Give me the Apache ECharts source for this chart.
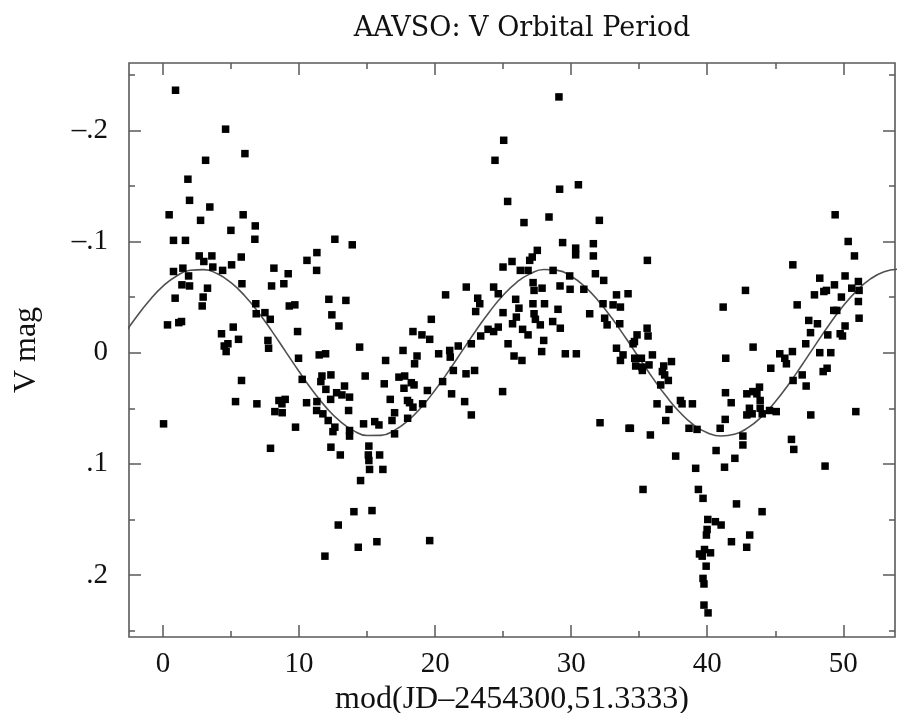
<!DOCTYPE html>
<html>
<head>
<meta charset="utf-8">
<title>AAVSO: V Orbital Period</title>
<script src="https://cdn.jsdelivr.net/npm/echarts@6/dist/echarts.min.js"></script>
<style>
  html, body { margin: 0; padding: 0; background: #fff; }
  #chart { width: 898px; height: 713px; }
</style>
</head>
<body>
<div id="chart"></div>
<script>
// Phase, mod(JD-2454300, 51.3333), of each observation
const phase = [
  0.92,4.60,6.02,3.13,1.83,1.95,3.44,0.45,5.89,2.76,6.78,4.99,0.77,1.65,6.75,12.63,13.91,2.66,3.59,5.75,
  11.31,10.58,3.00,1.46,3.66,0.77,4.38,5.04,8.15,9.20,11.29,1.88,1.39,1.95,3.27,5.80,7.98,8.88,0.89,2.95,
  2.88,6.82,6.85,7.49,7.88,9.28,9.69,12.19,13.44,12.41,12.93,0.33,1.16,1.36,9.89,4.30,5.16,5.55,4.50,4.77,
  4.64,7.71,7.76,14.45,9.96,11.48,11.95,
  5.77,5.33,6.90,0.04,10.23,14.86,12.34,11.68,11.60,11.97,13.34,12.76,13.15,13.71,12.32,8.52,8.98,8.74,
  10.55,11.31,8.22,8.76,11.29,11.75,13.64,12.14,9.74,12.63,12.49,13.71,13.71,14.74,15.56,7.90,12.34,13.03,
  15.13,15.09,15.13,15.18,14.52,14.03,15.36,12.88,14.35,15.72,11.90,
  29.10,25.04,24.40,29.15,30.53,25.33,28.37,26.53,32.07,29.37,30.33,30.33,31.63,31.63,27.51,27.14,26.95,
  25.65,24.99,26.26,26.83,28.67,29.89,31.78,32.39,27.20,27.86,29.18,29.92,30.93,27.27,22.29,20.77,24.30,
  24.64,23.13,23.28,22.98,25.92,27.19,28.04,29.03,31.36,26.16,25.97,24.99,27.27,27.37,27.73,28.64,29.20,
  24.64,25.69,26.83,26.43,19.72,18.37,19.03,19.60,23.89,24.30,23.35,27.98,25.36,22.66,21.70,21.07,17.64,
  18.67,20.26,16.36,27.83,29.57,30.38,33.33,33.81,25.80,34.18,33.33,33.08,33.62,32.34,32.46,32.64,33.57,
  18.49,21.11,26.38,33.62,17.34,17.76,18.25,18.45,17.71,16.26,16.70,17.97,18.12,18.37,19.08,19.43,20.55,
  21.34,22.27,22.90,21.21,22.17,22.66,24.96,17.02,16.83,15.87,17.98,17.02,15.92,16.16,19.60,32.12,34.25,
  49.40,50.36,50.82,46.29,35.60,48.27,50.13,49.35,48.76,48.57,47.88,50.62,51.11,51.16,49.86,51.11,51.16,
  49.52,49.30,46.61,42.81,41.17,47.46,48.10,50.13,47.59,48.86,49.77,49.94,35.58,35.65,34.84,34.65,34.55,
  43.37,47.24,46.26,45.33,48.27,49.08,35.97,41.36,37.37,34.67,35.16,45.70,
  34.74,35.21,35.23,35.72,36.80,36.70,36.87,37.14,36.58,44.67,45.82,46.31,46.98,47.27,48.52,48.81,50.92,
  47.61,48.66,46.19,46.36,41.34,41.76,41.32,40.95,40.65,41.27,42.03,42.62,42.62,42.91,43.35,43.84,43.65,
  43.89,43.10,43.30,42.91,43.89,44.04,44.58,45.07,36.31,37.19,38.03,38.15,38.91,36.95,34.35,35.82,38.66,
  39.25,37.68,39.15,35.28,39.35,39.69,42.15,44.03,40.04,40.60,41.02,39.99,39.94,43.12,41.78,42.90,39.43,
  39.80,40.24,39.63,39.92,39.69,39.76,39.76,40.06
];

// V magnitude (relative) of each observation
const vmag = [
  -0.236,-0.201,-0.179,-0.173,-0.156,-0.137,-0.131,-0.124,-0.124,-0.119,-0.114,-0.110,-0.101,-0.101,-0.102,-0.102,-0.097,-0.087,-0.087,-0.086,
  -0.090,-0.083,-0.082,-0.076,-0.077,-0.073,-0.074,-0.079,-0.076,-0.071,-0.074,-0.069,-0.061,-0.060,-0.058,-0.062,-0.060,-0.062,-0.049,-0.050,
  -0.042,-0.044,-0.035,-0.036,-0.030,-0.042,-0.043,-0.048,-0.047,-0.034,-0.024,-0.025,-0.027,-0.028,-0.019,-0.017,-0.023,-0.012,-0.006,-0.008,
  -0.001,-0.011,-0.004,-0.005,0.005,0.002,0.001,
  0.025,0.044,0.046,0.064,0.024,0.021,0.020,0.021,0.026,0.033,0.030,0.036,0.038,0.040,0.042,0.043,0.042,0.046,
  0.045,0.044,0.053,0.054,0.052,0.055,0.052,0.061,0.067,0.067,0.071,0.070,0.075,0.064,0.062,0.086,0.085,0.092,
  0.084,0.092,0.097,0.105,0.115,0.143,0.142,0.155,0.175,0.170,0.183,
  -0.230,-0.191,-0.173,-0.147,-0.151,-0.136,-0.122,-0.117,-0.119,-0.099,-0.094,-0.088,-0.098,-0.087,-0.092,-0.086,-0.083,
  -0.082,-0.077,-0.074,-0.074,-0.074,-0.069,-0.071,-0.065,-0.063,-0.058,-0.060,-0.057,-0.057,-0.056,-0.059,-0.052,-0.059,
  -0.053,-0.049,-0.044,-0.037,-0.048,-0.044,-0.044,-0.039,-0.035,-0.040,-0.032,-0.036,-0.035,-0.030,-0.025,-0.028,-0.022,
  -0.023,-0.026,-0.016,-0.021,-0.030,-0.019,-0.016,-0.012,-0.021,-0.019,-0.015,-0.011,-0.008,-0.008,-0.006,-0.002,-0.002,
  0.003,0.001,0.007,-0.001,0.001,0.001,-0.004,0.002,0.003,-0.053,-0.052,-0.043,-0.041,-0.044,-0.031,-0.025,-0.026,
  0.010,0.004,0.007,0.007,0.022,0.021,0.027,0.029,0.032,0.028,0.042,0.043,0.045,0.049,0.046,0.034,0.026,
  0.016,0.019,0.016,0.037,0.044,0.056,0.035,0.054,0.061,0.065,0.059,0.073,0.092,0.105,0.169,0.063,0.068,
  -0.124,-0.100,-0.087,-0.079,-0.083,-0.067,-0.069,-0.061,-0.056,-0.055,-0.052,-0.058,-0.064,-0.056,-0.050,-0.046,-0.031,
  -0.038,-0.038,-0.043,-0.056,-0.041,-0.029,-0.026,-0.024,-0.018,-0.016,-0.017,-0.015,-0.022,-0.015,-0.016,-0.010,-0.008,
  -0.005,-0.008,-0.001,0.001,0.000,0.000,0.002,0.005,0.008,0.005,0.005,0.005,
  0.012,0.013,0.016,0.011,0.012,0.017,0.020,0.025,0.029,0.014,0.010,0.025,0.020,0.030,0.017,0.014,0.053,
  0.056,0.102,0.078,0.087,0.036,0.045,0.060,0.068,0.088,0.103,0.095,0.075,0.083,0.037,0.035,0.031,0.037,
  0.043,0.050,0.055,0.056,0.050,0.055,0.052,0.053,0.046,0.051,0.043,0.046,0.046,0.061,0.068,0.074,0.068,
  0.069,0.093,0.104,0.123,0.123,0.131,0.136,0.143,0.150,0.152,0.155,0.159,0.164,0.164,0.170,0.175,0.181,
  0.177,0.180,0.183,0.192,0.203,0.208,0.227,0.234
];

// Sinusoidal fit (half the orbital period), read at whole-day phases
const fitPhase = [-3,-2,-1,0,1,2,3,4,5,6,7,8,9,10,11,12,13,14,15,16,17,18,19,20,21,22,23,24,25,26,27,28,
  29,30,31,32,33,34,35,36,37,38,39,40,41,42,43,44,45,46,47,48,49,50,51,52,53,54];
const fitMag = [-0.0140,-0.0314,-0.0470,-0.0598,-0.0690,-0.0741,-0.0747,-0.0709,-0.0629,-0.0512,-0.0364,
  -0.0194,-0.0012,0.0170,0.0342,0.0494,0.0616,0.0701,0.0745,0.0744,0.0699,0.0612,0.0489,0.0336,0.0164,
  -0.0018,-0.0200,-0.0369,-0.0516,-0.0633,-0.0711,-0.0748,-0.0740,-0.0687,-0.0594,-0.0465,-0.0309,-0.0134,
  0.0049,0.0229,0.0395,0.0538,0.0649,0.0720,0.0749,0.0734,0.0674,0.0575,0.0441,0.0281,0.0104,-0.0079,
  -0.0258,-0.0421,-0.0558,-0.0663,-0.0728,-0.0750];

// Axis ticks
const xMajorTicks = [0, 10, 20, 30, 40, 50];
const xMinorTicks = [5, 15, 25, 35, 45];
const yMajorTicks = [-0.2, -0.1, 0, 0.1, 0.2];
const yTickLabels = ['\u2013.2', '\u2013.1', '0', '.1', '.2'];
const yMinorTicks = [-0.25, -0.15, -0.05, 0.05, 0.15, 0.25];

const X_MIN = -2.5, X_MAX = 53.8;
const Y_MIN = -0.2605, Y_MAX = 0.2557;

const FRAME = '#5a5a5a';
const serif = 'Liberation Serif';

function xAxisDef(position, ticks, len, withLabels) {
  const ax = {
    type: 'value', position: position, min: X_MIN, max: X_MAX,
    axisLine: { show: false, onZero: false },
    splitLine: { show: false },
    axisTick: { show: true, inside: true, length: len, customValues: ticks,
                lineStyle: { color: FRAME, width: 1.5 } },
    axisLabel: { show: withLabels }
  };
  if (withLabels) {
    ax.axisLabel = { show: true, customValues: ticks, margin: 13,
                     fontFamily: serif, fontSize: 29, color: '#111' };
    ax.name = 'mod(JD\u20132454300,51.3333)';
    ax.nameLocation = 'middle';
    ax.nameGap = 35;
    ax.nameTextStyle = { fontFamily: serif, fontSize: 32, color: '#111' };
  }
  return ax;
}

function yAxisDef(position, ticks, len, withLabels) {
  const ax = {
    type: 'value', position: position, min: Y_MIN, max: Y_MAX, inverse: true,
    axisLine: { show: false, onZero: false },
    splitLine: { show: false },
    axisTick: { show: true, inside: true, length: len, customValues: ticks,
                lineStyle: { color: FRAME, width: 1.5 } },
    axisLabel: { show: withLabels }
  };
  if (withLabels) {
    ax.axisLabel = {
      show: true, customValues: ticks, margin: 21,
      fontFamily: serif, fontSize: 29, color: '#111',
      formatter: function (v) {
        const i = yMajorTicks.findIndex(t => Math.abs(t - v) < 1e-6);
        return i >= 0 ? yTickLabels[i] : '';
      }
    };
    ax.name = 'V mag';
    ax.nameLocation = 'middle';
    ax.nameRotate = 90;
    ax.nameGap = 86;
    ax.nameTextStyle = { fontFamily: serif, fontSize: 32, color: '#111' };
  }
  return ax;
}

const points = phase.map((p, i) => [p, vmag[i]]);
const fitLine = fitPhase.map((p, i) => [p, fitMag[i]]);

const chart = echarts.init(document.getElementById('chart'), null, { renderer: 'canvas' });
chart.setOption({
  animation: false,
  backgroundColor: '#fff',
  title: {
    text: 'AAVSO: V Orbital Period',
    left: 517, top: 10, textAlign: 'center',
    textStyle: { fontFamily: 'DejaVu Serif', fontSize: 27, fontWeight: 'normal', color: '#111' }
  },
  grid: {
    left: 129, right: 3, top: 63, bottom: 76,
    outerBoundsMode: 'none', containLabel: false,
    show: true, borderColor: FRAME, borderWidth: 1.6, backgroundColor: 'transparent'
  },
  xAxis: [
    xAxisDef('bottom', xMajorTicks, 12, true),
    xAxisDef('bottom', xMinorTicks, 6, false),
    xAxisDef('top', xMajorTicks, 12, false),
    xAxisDef('top', xMinorTicks, 6, false)
  ],
  yAxis: [
    yAxisDef('left', yMajorTicks, 12, true),
    yAxisDef('left', yMinorTicks, 6, false),
    yAxisDef('right', yMajorTicks, 12, false),
    yAxisDef('right', yMinorTicks, 6, false)
  ],
  series: [
    {
      type: 'line', xAxisIndex: 0, yAxisIndex: 0,
      data: fitLine, smooth: true, showSymbol: false, clip: true,
      lineStyle: { color: '#505050', width: 1.6 }, z: 2
    },
    {
      type: 'scatter', xAxisIndex: 0, yAxisIndex: 0,
      data: points, symbol: 'rect', symbolSize: 7.5,
      itemStyle: { color: '#000', opacity: 1 }, z: 3
    }
  ]
});
</script>
</body>
</html>
